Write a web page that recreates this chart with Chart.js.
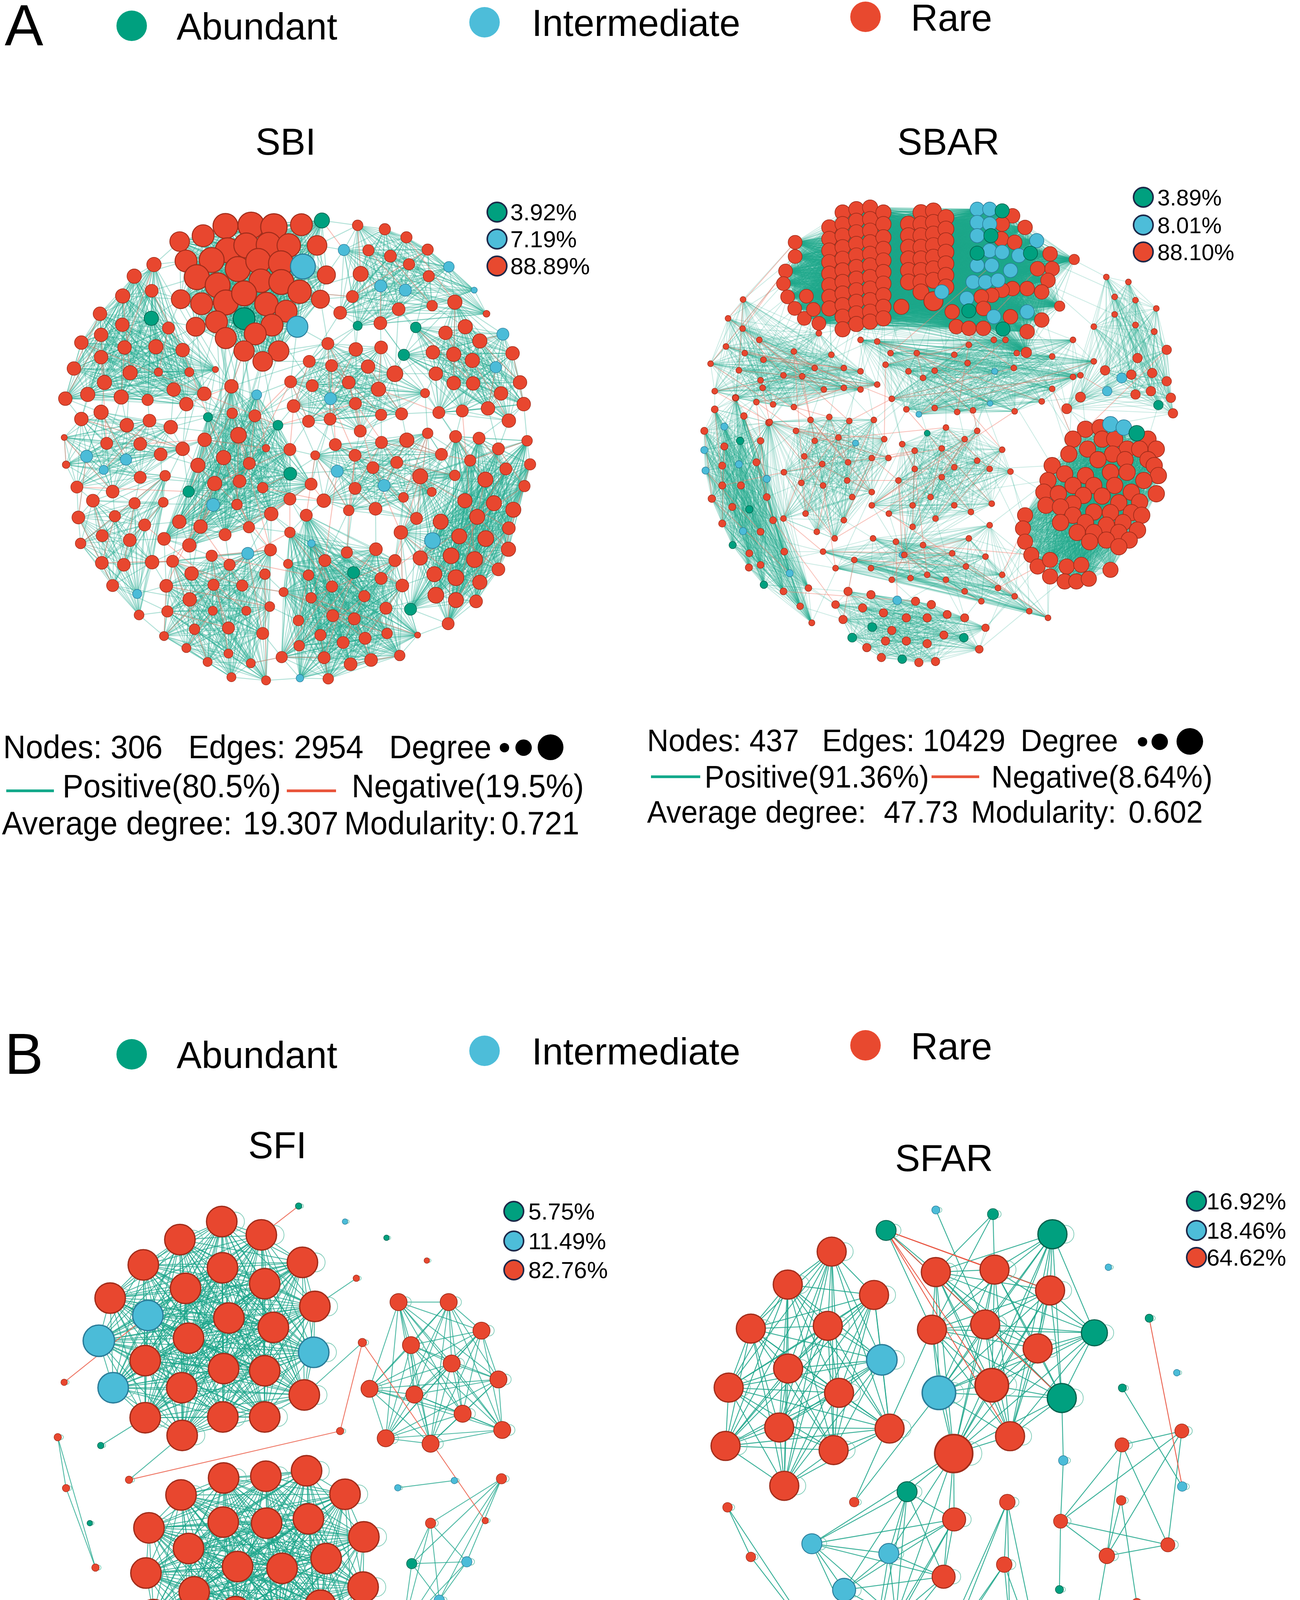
<!DOCTYPE html>
<html><head><meta charset="utf-8">
<script src="https://cdn.jsdelivr.net/npm/chart.js@4.4.1/dist/chart.umd.min.js"></script>
<style>
html,body{margin:0;padding:0;background:#fff;}
body{width:3327px;height:4760px;position:relative;overflow:hidden;font-family:"Liberation Sans",Arial,Helvetica,sans-serif;color:#000;}
.t{position:absolute;white-space:pre;line-height:1;z-index:3;}
.dot{position:absolute;border-radius:50%;box-sizing:border-box;z-index:3;}
.seg{position:absolute;z-index:3;}
canvas{position:absolute;z-index:1;}
</style></head><body>
<script>
// ---------------- data ----------------
const categories = ["Abundant", "Intermediate", "Rare"];
const panelLetters = ["A", "B"];
const panelTitles = ["SBI", "SBAR", "SFI", "SFAR"];
const nodeCounts = [306, 437, 87, 65];
const edgeCounts = [2954, 10429, 827, 316];
const positiveShare = ["80.5%", "91.36%", "99.52%", "97.15%"];
const negativeShare = ["19.5%", "8.64%", "0.48%", "2.85%"];
const averageDegree = ["19.307", "47.73", "19.011", "9.723"];
const modularity = ["0.721", "0.602", "0.605", "0.675"];
const classShare = [["3.92%", "7.19%", "88.89%"], ["3.89%", "8.01%", "88.10%"], ["5.75%", "11.49%", "82.76%"], ["16.92%", "18.46%", "64.62%"]];

// node = [layoutX, layoutY, degree, class(0 Abundant,1 Intermediate,2 Rare)]
// ---- SBI ----
const sbiTop = [[567,147,56,2],[636,145,60,2],[697,150,60,2],[771,143,48,2],[507,177,48,2],[444,195,42,2],[573,222,56,2],[623,207,56,2],[683,205,56,2],[737,207,52,2],[813,207,42,2],[461,255,48,2],[530,252,56,2],[600,280,56,2],[655,255,56,2],[716,262,56,2],[775,272,56,1],[838,298,38,2],[490,305,56,2],[546,330,56,2],[662,316,52,2],[717,320,56,2],[766,350,52,2],[447,373,40,2],[503,387,48,2],[568,383,56,2],[617,355,56,2],[677,388,52,2],[730,410,48,2],[822,373,38,2],[543,443,48,2],[617,433,48,0],[692,453,48,2],[760,458,46,1],[487,458,40,2],[568,493,46,2],[647,480,48,2],[617,533,44,2],[710,533,44,2],[667,565,42,2],[826,130,30,0]];
const sbiLeftUp = [[375,266,28,2],[322,302,28,2],[369,347,24,2],[291,363,28,2],[230,418,26,2],[368,432,28,0],[414,462,22,2],[290,452,26,2],[233,483,26,2],[180,507,26,2],[296,522,26,2],[380,520,28,2],[452,530,26,2],[233,552,26,2],[160,587,26,2],[311,600,28,2],[387,598,12,2],[470,598,14,2],[242,630,28,2],[428,652,26,2],[137,680,26,2],[197,667,28,2],[287,675,28,2],[358,684,20,2],[462,697,26,2],[510,665,26,2],[540,590,6,2]];
const sbiLeftMid = [[233,722,28,2],[180,743,26,2],[302,762,26,2],[363,748,24,2],[420,768,26,2],[134,800,6,2],[248,818,22,2],[338,820,24,2],[393,852,24,2],[452,835,26,2],[194,858,22,1],[240,900,14,1],[300,868,20,1],[139,884,10,2],[168,953,22,2],[264,967,24,2],[338,923,22,2]];
const sbiLeftLow = [[405,918,18,2],[211,995,24,2],[323,1003,20,2],[400,1000,16,2],[172,1047,24,2],[270,1043,20,2],[350,1070,22,2],[236,1103,22,2],[310,1117,24,2],[178,1127,18,2],[235,1187,24,2],[294,1193,24,2],[370,1185,26,2],[264,1257,22,2],[330,1283,14,1],[335,1348,16,2]];
const sbiCenter = [[583,642,26,2],[651,668,16,1],[585,725,18,2],[646,733,22,2],[520,737,14,0],[708,762,16,0],[602,793,32,2],[511,807,26,2],[562,862,28,2],[493,886,28,2],[538,942,28,2],[468,967,20,0],[534,1008,24,1],[605,935,24,2],[667,955,18,2],[598,1007,18,2],[690,1036,26,2],[630,1077,20,2],[566,1100,22,2],[500,1075,26,2],[443,1060,26,2],[402,1113,24,2],[470,1133,26,2],[676,833,10,2],[631,880,22,2],[740,837,22,2],[741,912,24,0],[740,990,22,2],[797,944,22,2]];
const sbiMidUp = [[842,510,22,2],[917,528,26,2],[985,522,24,2],[792,565,22,2],[852,578,22,2],[950,581,26,2],[1022,603,32,2],[742,628,22,2],[800,640,22,2],[898,630,24,2],[978,651,28,2],[849,680,22,1],[916,695,22,2],[750,703,24,2],[985,730,20,2],[1040,727,22,2],[1103,663,14,2],[790,750,22,2],[848,743,22,2],[929,780,22,2]];
const sbiMidLow = [[986,815,22,2],[1054,808,28,2],[1110,787,18,2],[862,822,22,2],[808,855,14,2],[915,855,22,2],[963,893,22,2],[867,904,22,1],[1027,877,22,2],[1147,852,22,2],[915,957,22,2],[993,948,22,1],[1045,985,16,2],[831,995,26,2],[898,1025,18,2],[970,1020,24,2],[1080,1050,22,2],[1121,968,14,2],[1183,917,18,2]];
const sbiNorthEast = [[922,145,18,2],[995,157,20,2],[1053,182,20,2],[1110,220,20,2],[885,221,20,1],[951,222,20,2],[1010,240,22,2],[1060,265,20,2],[1113,302,20,2],[1167,273,18,1],[930,295,30,2],[984,332,22,1],[1050,345,22,1],[908,365,22,2],[875,415,24,2],[922,455,14,0],[983,447,24,2],[1032,404,24,2],[1122,393,18,2],[1235,345,6,1],[1268,418,8,2]];
const sbiRightUp = [[1183,382,28,2],[1211,458,28,2],[1158,477,26,2],[1250,502,28,2],[1124,537,26,2],[1180,543,28,2],[1230,562,28,2],[1338,540,26,2],[1132,603,26,2],[1180,632,26,2],[1232,633,26,2],[1293,583,20,1],[1312,481,22,1],[1358,630,26,2],[1307,664,26,2],[1368,697,26,2],[1272,710,26,2],[1328,748,26,2],[1203,718,22,2],[1140,723,22,2],[1046,545,20,0],[1078,460,18,0]];
const sbiRightLow = [[1090,920,30,2],[1210,995,28,2],[1288,1003,30,2],[1145,1060,30,2],[1243,1045,30,2],[1340,1023,30,2],[1038,1093,26,2],[1123,1118,32,1],[1195,1105,30,2],[1266,1112,32,2],[1328,1080,24,2],[1090,1172,28,2],[1173,1165,32,2],[1236,1177,32,2],[1327,1145,28,2],[1128,1222,30,2],[1186,1233,32,2],[1250,1247,28,2],[1300,1207,24,2],[1132,1287,32,2],[1186,1302,30,2],[1240,1306,24,2],[1165,1375,22,2],[1064,1330,22,0],[1185,797,22,2],[1248,802,22,2],[1300,835,22,2],[1377,810,18,2],[1385,883,20,2],[1320,897,22,2],[1224,871,20,2],[1265,930,30,2],[1370,950,20,2]];
const sbiBottomWest = [[688,1147,22,2],[673,1222,18,2],[612,1257,20,2],[535,1255,20,2],[408,1258,24,2],[471,1300,26,2],[411,1337,20,2],[533,1335,14,2],[627,1158,22,1],[578,1193,20,2],[530,1165,20,2],[476,1220,26,2],[425,1182,22,2],[623,1335,14,2],[686,1322,16,2],[667,1405,22,2],[575,1388,22,2],[484,1392,18,2],[402,1413,14,2],[462,1450,14,2],[575,1467,14,2],[635,1497,14,2],[519,1493,14,2],[583,1540,14,2],[676,1550,14,2]];
const sbiBottomEast = [[740,1093,18,2],[784,1040,22,2],[798,1127,10,1],[834,1180,22,2],[893,1155,20,2],[971,1145,24,2],[1022,1180,22,2],[735,1190,14,2],[723,1277,14,2],[790,1225,18,2],[853,1260,20,2],[911,1217,22,0],[940,1290,20,2],[998,1327,22,2],[1042,1257,24,2],[985,1235,22,2],[797,1295,18,2],[855,1350,22,2],[913,1360,22,2],[763,1365,18,2],[718,1478,20,2],[765,1443,18,2],[822,1410,20,2],[883,1433,22,2],[942,1420,22,2],[1001,1405,18,2],[1083,1410,6,2],[1035,1473,18,2],[958,1487,24,2],[903,1500,24,2],[832,1480,22,2],[767,1543,10,1],[843,1545,18,2]];
// links between modules: [moduleA, nodeA, moduleB, nodeB]
const sbiPositiveLinks = [[0,30,4,6],[0,30,4,8],[0,31,4,9],[0,35,4,10],[0,37,4,13],[0,39,4,6],[0,34,4,0],[0,37,4,3],[0,31,4,7],[0,36,4,8],[0,5,1,0],[0,11,1,1],[0,23,1,3],[0,34,1,5],[0,23,1,6],[0,30,1,12],[0,34,1,17],[0,17,7,4],[0,10,7,0],[0,29,7,13],[0,22,7,10],[0,40,7,0],[0,38,5,0],[0,39,5,3],[0,33,5,7],[0,32,5,8],[1,20,2,1],[1,23,2,3],[1,24,2,4],[1,18,2,0],[1,22,2,2],[2,14,3,1],[2,15,3,2],[2,16,3,0],[2,8,3,3],[2,9,4,7],[2,8,4,9],[2,4,4,6],[4,20,10,12],[4,21,10,10],[4,22,10,11],[4,18,10,9],[4,16,10,0],[4,1,5,7],[4,5,5,13],[4,3,5,8],[5,18,6,3],[5,19,6,5],[5,14,6,0],[5,15,6,1],[6,13,11,1],[6,14,11,4],[6,15,11,5],[6,16,11,6],[6,16,9,6],[6,12,9,0],[6,18,9,0],[6,9,9,24],[8,17,9,26],[8,19,9,24],[8,15,9,25],[8,0,7,8],[8,1,7,18],[8,21,7,17],[8,20,7,16],[5,16,8,19],[5,6,8,20],[5,15,8,18],[10,0,11,7],[10,14,11,19],[10,15,11,20],[10,24,11,31],[3,12,10,12],[3,15,10,18],[3,13,10,6],[3,14,10,4],[9,6,11,14],[9,23,11,13],[9,11,11,6],
[1,20,2,0],[1,21,2,1],[1,22,2,6],[1,24,2,9],[1,19,2,4],[1,15,2,2],[1,13,2,1],[2,13,3,0],[2,14,3,4],[2,15,3,5],[2,16,3,2],[2,12,3,1],[2,11,3,0],[2,10,3,4],[2,9,3,6],[1,25,4,0],[1,24,4,2],[1,26,4,4],[1,19,4,2],[1,17,4,0],[1,12,4,0],[1,16,4,6],[2,8,4,7],[2,4,4,4],[2,3,4,2],[2,16,4,10],[2,12,4,7],[2,9,4,11],[3,0,4,10],[3,3,4,11],[3,6,4,20],[3,2,4,12],[3,12,4,22],[3,8,4,21],[3,12,10,4],[3,13,10,5],[3,11,10,12],[3,15,10,6],[4,21,10,4],[4,17,10,0],[4,19,10,11],[4,16,10,8],[4,17,10,1],[4,0,5,3],[4,5,5,17],[4,3,5,13],[4,25,5,17],[4,28,5,18],[4,26,6,3],[4,28,6,4],[4,27,6,13],[4,25,6,4],[4,26,6,7],[4,27,11,1],[4,16,11,0],[4,17,11,0],[4,27,11,3],[4,16,11,2],[5,17,6,3],[5,18,6,4],[5,19,6,0],[5,14,6,5],[5,16,6,2],[5,13,6,4],[5,0,7,15],[5,1,7,15],[5,2,7,16],[5,3,7,14],[5,6,7,17],[5,1,7,13],[5,6,8,4],[5,16,8,8],[5,10,8,20],[5,6,8,8],[6,2,9,30],[6,17,9,6],[6,8,9,0],[6,12,9,6],[6,14,11,3],[6,12,11,6],[6,10,11,4],[8,16,9,26],[8,18,9,24],[8,15,9,27],[8,19,9,30],[7,18,8,0],[7,17,8,4],[7,16,8,20],[7,12,8,0],[7,8,8,21],[7,9,8,0],[9,6,11,6],[9,11,11,14],[9,15,11,14],[9,19,11,13],[9,22,11,26],[10,1,11,8],[10,21,11,20],[10,2,11,8],[0,23,1,2],[0,34,1,11],[0,11,1,0],[0,18,1,2],[0,23,1,5],[0,30,4,0],[0,37,4,0],[0,39,4,1],[0,30,4,2],[0,34,4,4],[0,39,5,0],[0,33,5,0],[0,29,5,0],[0,29,7,14],[0,22,7,13],[0,10,7,4],[0,31,4,10],[0,31,4,12],[0,35,4,18],[0,37,10,0],[1,5,4,6],[7,15,4,6],[0,32,4,6],[0,38,4,13],[0,36,4,10],[0,30,2,9],[0,35,4,16],[0,39,4,27]];
const sbiNegativeLinks = [[4,6,5,7],[4,8,4,19],[4,12,10,12],[4,25,5,13],[5,4,6,3],[5,9,6,6],[5,10,8,19],[6,0,9,30],[6,4,11,1],[6,9,9,24],[6,10,6,15],[9,6,11,14],[9,11,9,32],[9,18,9,28],[11,9,11,19],[11,12,11,23],[11,16,11,24],[10,4,10,18],[10,12,3,12],[3,3,3,8],[2,5,2,13],[2,7,4,7],[1,9,1,25],[1,12,4,4],[1,25,4,5],[0,22,7,13],[7,11,7,16],[8,12,8,3],[8,7,8,15],[6,5,6,14],[5,2,5,10],[4,9,4,15],[4,15,10,0],[10,7,10,19],[11,2,11,10],[11,27,11,29],[9,0,6,17],[3,1,3,7],[10,2,11,8],[11,20,10,21],[4,28,6,13],[5,12,4,5],[6,7,11,3],[9,13,8,18],[7,2,8,0],[0,40,7,4],[1,13,2,6],[2,10,3,4],[4,24,4,13],[11,0,4,27],
[4,10,4,25],[5,0,5,9],[6,1,6,9],[9,4,9,29],[11,3,11,16],[10,8,10,15],[3,5,3,10],[2,0,2,12],[1,3,1,15],[4,14,6,13],[5,11,6,5],[8,2,8,10],[7,5,7,12],[9,7,11,15],[10,3,10,16],[11,17,11,25],[6,6,9,6],[4,7,4,23],[2,14,4,11],[3,6,10,13],[11,11,11,30],[9,20,9,31],[5,7,4,24],[6,2,6,16],[10,10,11,9],[11,5,11,21],[4,2,4,24],[8,11,8,16],[1,8,1,20],[4,19,10,2],
[4,0,4,9],[4,2,4,11],[4,4,4,13],[4,6,4,15],[4,8,4,17],[4,10,4,20],[4,12,4,22],[4,14,4,26],[4,16,4,28],[4,18,4,27],[4,1,4,23],[4,3,4,24],[5,1,5,11],[5,3,5,13],[5,5,5,15],[5,7,5,17],[5,9,5,19],[5,0,5,18],[5,4,5,14],[6,0,6,10],[6,2,6,12],[6,4,6,14],[6,6,6,16],[6,8,6,18],[6,1,6,11],[6,3,6,17],[9,0,9,10],[9,2,9,12],[9,4,9,14],[9,6,9,16],[9,8,9,18],[9,10,9,20],[9,12,9,22],[9,24,9,31],[9,25,9,29],[9,26,9,32],[9,27,9,30],[10,0,10,10],[10,2,10,12],[10,4,10,14],[10,6,10,16],[10,8,10,18],[10,10,10,20],[10,12,10,22],[10,1,10,24],[11,0,11,10],[11,2,11,12],[11,4,11,14],[11,6,11,16],[11,8,11,18],[11,10,11,20],[11,12,11,22],[11,14,11,24],[11,16,11,26],[11,18,11,28],[11,20,11,30],[11,22,11,32],[1,0,1,10],[1,2,1,12],[1,4,1,14],[1,6,1,16],[1,8,1,18],[1,10,1,22],[2,1,2,9],[2,3,2,11],[2,5,2,15],[3,0,3,9],[3,2,3,11],[3,4,3,13],[7,0,7,10],[7,3,7,13],[7,6,7,18],[8,0,8,9],[8,3,8,13],[8,6,8,17],[8,10,8,21],[4,6,10,0],[4,10,10,4],[5,12,6,8],[6,5,11,4],[9,0,11,6],[10,9,11,0],[3,10,10,12],[2,9,4,9],[1,24,4,0],[0,37,4,0]];

// ---- SBAR ----
const sbarTopLeft = [[465,160,80,2],[465,195,80,2],[465,230,80,2],[465,265,80,2],[465,300,80,2],[465,335,80,2],[465,370,80,2],[465,405,80,2],
[497,115,80,2],[497,150,80,2],[497,185,80,2],[497,220,80,2],[497,255,80,2],[497,290,80,2],[497,325,80,2],[497,360,80,2],[497,395,80,2],[497,430,80,2],[497,468,80,2],
[530,105,80,2],[530,140,80,2],[530,175,80,2],[530,210,80,2],[530,245,80,2],[530,280,80,2],[530,315,80,2],[530,350,80,2],[530,385,80,2],[530,420,80,2],[530,452,80,2],
[563,100,80,2],[563,135,80,2],[563,170,80,2],[563,205,80,2],[563,240,80,2],[563,275,80,2],[563,310,80,2],[563,345,80,2],[563,380,80,2],[563,415,80,2],[563,445,80,2],
[595,115,80,2],[595,150,80,2],[595,190,80,2],[595,225,80,2],[595,260,80,2],[595,295,80,2],[595,330,80,2],[595,365,80,2],[595,400,80,2],[595,435,80,2],
[383,205,70,2],[383,248,70,2],[360,292,70,2],[355,330,70,2],[365,370,70,2],[382,405,70,2],[405,435,70,2],[440,450,70,2],[410,368,70,2],[427,408,70,2],[638,400,80,2]];
const sbarTopMiddle = [[655,150,85,2],[655,185,85,2],[655,220,85,2],[655,255,85,2],[655,290,85,2],[655,325,85,2],[685,115,85,2],[685,150,85,2],[685,185,85,2],[685,220,85,2],[685,255,85,2],[685,290,85,2],[685,325,85,2],[685,355,85,2],[715,110,85,2],[715,145,85,2],[715,180,85,2],[715,215,85,2],[715,250,85,2],[715,285,85,2],[715,320,85,2],[715,383,108,2],[745,130,85,2],[745,165,85,2],[745,200,85,2],[745,235,85,2],[745,270,85,2],[745,305,85,2],[745,340,85,2]];
const sbarTopRight = [[905,125,75,2],[935,160,75,2],[880,150,75,2],[878,195,75,2],[910,205,75,2],[965,285,75,2],[995,240,75,2],[1000,285,75,2],[990,320,75,2],[975,355,75,2],[940,345,75,2],[905,345,75,2],[880,350,75,2],[855,365,75,2],[830,370,75,2],[835,405,75,2],[900,430,75,2],[975,440,75,2],[940,475,75,2],[770,460,75,2],[800,465,75,2],[835,465,75,2],[760,415,75,2],[1018,398,45,2],[1053,257,45,2],[938,538,45,2],
[820,105,72,1],[850,105,72,1],[820,145,72,1],[850,150,72,1],[820,185,72,1],[850,230,72,1],[820,275,72,1],[880,235,72,1],[855,275,72,1],[810,325,72,1],[840,325,72,1],[870,320,72,1],[900,290,72,1],[920,245,72,1],[795,375,72,1],[860,430,72,1],[940,415,72,1],[963,200,72,1],[735,355,72,1],
[880,110,72,0],[853,185,72,0],[820,238,72,0],[948,238,72,0],[800,412,72,0],[882,467,72,0]];
const sbarRightCluster = [[1080,770,88,2],[1115,765,88,2],[1050,800,88,2],[1120,800,88,2],[1150,800,88,2],[1230,800,88,2],[1085,830,88,2],[1180,830,88,2],[1210,830,88,2],[1250,830,88,2],[1040,845,88,2],[1145,845,88,2],[1110,862,88,2],[1175,862,88,2],[1230,862,88,2],[1000,880,88,2],[1245,880,88,2],[1030,905,88,2],[1140,900,88,2],[1180,900,88,2],[1080,910,88,2],[1255,910,88,2],[990,925,88,2],[1220,925,88,2],[1050,940,88,2],[1100,940,88,2],[1150,940,88,2],[980,960,88,2],[1015,965,88,2],[1190,960,88,2],[1250,965,88,2],[1075,970,88,2],[1120,972,88,2],[1050,995,88,2],[1160,992,88,2],[1210,990,88,2],[985,1000,88,2],[1020,1005,88,2],[1100,1020,88,2],[1140,1022,88,2],[1190,1022,88,2],[1050,1030,88,2],[1215,1030,88,2],[1020,1052,88,2],[1080,1052,88,2],[1170,1052,88,2],[1130,1060,88,2],[1060,1082,88,2],[1100,1082,88,2],[1160,1082,88,2],[1205,1075,88,2],[1130,1105,88,2],[1185,1105,88,2],[1090,1110,88,2],[1160,1125,88,2],[935,1030,80,2],[930,1070,80,2],[935,1110,80,2],[950,1150,80,2],[965,1185,80,2],[995,1165,80,2],[1035,1185,80,2],[1070,1180,80,2],[995,1215,80,2],[1030,1230,80,2],[1058,1230,80,2],[1088,1222,80,2],[1140,1195,80,2],[1140,755,82,1],[1172,765,82,1],[1203,782,82,0]];
const sbarRightUpper = [[1127,592,38,2],[1167,615,42,1],[1190,605,38,2],[1240,600,38,2],[1275,625,38,2],[1132,655,38,1],[1200,665,38,2],[1237,655,38,2],[1285,675,38,2],[1255,697,38,0],[1290,722,38,2],[1068,673,42,2],[1035,708,42,2],[1205,555,38,2],[1275,530,38,2],[1245,475,14,2],[1200,455,14,2],[1130,310,12,2],[1183,325,12,2],[1200,380,12,2],[1150,370,12,2],[1150,423,12,2],[1100,460,12,2],[1250,405,12,2]];
const sbarLeftCluster = [[165,775,22,2],[213,762,22,1],[251,805,24,0],[165,833,22,1],[213,822,22,2],[168,895,22,1],[208,880,22,2],[248,876,22,1],[290,870,22,2],[315,920,22,1],[208,940,22,2],[253,940,22,2],[183,980,24,2],[232,1005,22,2],[273,1012,24,0],[315,975,20,2],[208,1055,22,2],[258,1078,22,1],[300,1080,20,2],[233,1120,22,0],[330,1045,20,2],[357,1140,20,2],[273,1145,20,2],[300,1180,20,2],[370,1205,22,1],[272,1188,22,2],[308,1240,24,0],[355,1260,20,2],[415,1250,18,2],[395,1305,18,2],[423,1355,14,2],[190,710,20,2],[240,675,18,2],[260,730,18,2],[300,805,18,2],[320,750,18,2]];
const sbarBottomCluster = [[510,1260,30,2],[565,1270,30,2],[628,1287,32,1],[672,1290,30,2],[710,1300,30,2],[480,1300,26,2],[545,1310,30,2],[498,1345,30,2],[595,1325,30,2],[650,1340,30,2],[700,1340,30,2],[748,1330,28,2],[790,1340,28,2],[520,1400,34,0],[568,1368,34,0],[615,1378,30,2],[650,1410,30,2],[700,1418,30,2],[740,1392,28,2],[788,1400,32,0],[555,1430,30,2],[600,1410,30,2],[640,1465,32,0],[680,1475,30,2],[720,1472,30,2],[590,1460,30,2],[825,1435,26,2],[840,1370,24,2]];
const sbarSparseNW = [[258,378,12,2],[222,435,12,2],[257,466,12,2],[297,500,12,2],[217,520,12,2],[262,540,12,2],[307,560,12,2],[180,572,12,2],[248,592,12,2],[300,622,12,2],[355,607,12,2],[400,610,12,2],[430,585,12,2],[470,545,12,2],[500,585,12,2],[540,595,12,2],[580,635,12,2],[540,650,12,2],[500,645,12,2],[452,650,12,2],[380,535,12,2],[440,480,12,2],[190,655,12,2],[240,675,12,2],[290,688,12,2],[330,695,12,2],[380,703,12,2],[305,645,12,2]];
const sbarSparseN = [[600,575,12,2],[655,595,12,2],[690,615,12,2],[718,593,12,2],[797,570,12,2],[862,595,14,1],[908,585,12,2],[915,540,12,2],[888,500,12,2],[860,500,12,2],[800,515,12,2],[765,545,12,2],[675,540,12,2],[612,540,12,2],[580,505,12,2],[540,500,12,2],[615,678,12,2],[650,710,12,2],[680,725,12,1],[718,706,12,2],[772,718,12,2],[810,713,12,2],[851,692,10,1],[910,716,12,2],[975,686,12,2],[1000,648,12,2],[1050,612,12,2],[1068,607,12,2],[1100,565,12,2],[1050,500,12,2],[1000,550,12,2]];
const sbarSparseW = [[322,748,12,2],[385,775,12,2],[420,742,12,2],[465,733,12,2],[513,745,12,2],[572,742,12,2],[430,805,12,2],[487,795,12,2],[528,812,14,1],[597,800,12,2],[607,857,12,2],[567,857,12,2],[510,870,12,2],[448,875,12,2],[405,852,12,2],[356,900,12,2],[398,932,12,2],[450,940,12,2],[508,925,12,2],[567,960,12,2],[355,1040,12,2],[408,1025,12,2],[435,1080,12,2],[478,1100,12,2],[500,1045,12,2],[520,975,12,2]];
const sbarSparseC = [[640,815,12,2],[700,782,12,0],[745,765,12,2],[790,800,12,2],[820,775,12,2],[880,832,12,2],[735,828,12,2],[670,835,12,2],[631,925,12,2],[670,890,12,2],[735,915,12,2],[765,885,12,2],[820,865,12,2],[850,890,12,2],[900,898,12,2],[567,1000,12,2],[608,1025,12,2],[665,1000,12,2],[708,975,12,2],[765,1000,12,2],[805,1020,12,2],[855,995,12,2],[720,1040,12,2],[665,1065,12,2],[640,1150,14,1]];
const sbarSparseS = [[625,1110,12,2],[570,1100,12,2],[525,1165,12,2],[480,1190,12,2],[450,1140,12,2],[565,1190,12,2],[615,1225,12,2],[660,1220,12,2],[700,1210,12,2],[745,1225,12,2],[793,1185,12,2],[840,1155,12,2],[760,1145,12,2],[690,1120,12,2],[645,1150,12,2],[790,1260,12,2],[830,1290,12,2],[870,1250,12,2],[910,1275,12,2],[945,1320,12,2],[990,1340,12,2],[880,1210,12,2],[800,1100,12,2],[850,1060,12,2]];
const sbarPositiveLinks = [[0,51,5,0],[0,52,5,0],[0,54,5,1],[0,56,5,3],[0,57,5,5],[0,58,5,6],[0,7,5,13],[0,18,5,21],[0,29,5,14],[0,40,5,15],[0,50,5,16],[0,60,6,14],[0,61,6,0],[0,90,6,1],[0,83,6,2],[0,120,6,9],[0,125,6,4],[0,141,6,7],[0,132,6,8],[0,135,6,28],[0,139,2,19],[0,139,2,12],[0,138,2,21],[0,118,6,6],[0,18,7,2],[0,29,7,5],[0,40,8,0],[0,83,8,3],[0,61,3,0],[0,55,3,2],[0,57,3,31],[0,18,3,35],[0,141,1,0],[0,135,1,55],[0,125,9,4],[0,50,7,7],[1,55,9,19],[1,56,9,18],[1,57,9,21],[1,58,8,14],[1,59,8,20],[1,60,9,20],[1,15,8,13],[1,0,2,10],[1,1,2,12],[1,2,6,25],[1,5,2,9],[1,62,4,26],[1,61,9,22],[1,57,4,12],[3,0,5,9],[3,3,7,0],[3,8,7,1],[3,9,7,15],[3,14,7,20],[3,17,9,4],[3,22,9,3],[3,24,4,5],[3,26,4,0],[3,30,7,10],[3,35,5,24],[4,0,9,2],[4,3,9,6],[4,8,9,11],[4,12,8,22],[4,26,9,13],[4,27,9,18],[5,16,6,15],[5,18,7,5],[6,16,8,0],[6,21,8,4],[7,19,8,15],[7,24,9,1],[8,21,9,0],[6,24,2,11],[6,28,2,12],[8,13,1,57],
[0,0,5,20],[0,3,5,21],[0,6,5,13],[0,8,5,10],[0,59,5,12],[0,60,5,11],[0,56,5,9],[0,55,5,4],[0,54,5,2],[0,53,5,7],[0,28,6,15],[0,39,6,14],[0,49,6,0],[0,61,6,12],[0,70,6,13],[0,84,6,11],[0,90,6,10],[0,110,6,7],[0,114,6,9],[0,116,6,5],[0,117,6,8],[0,119,6,6],[0,121,6,30],[0,131,6,29],[0,140,6,26],[0,137,2,22],[0,134,2,17],[0,115,7,8],[0,112,7,5],[0,17,7,0],[0,27,7,3],[0,38,7,4],[0,48,8,1],[0,85,8,2],[0,95,8,4],[0,100,8,11],[0,111,1,15],[0,118,1,10],[0,141,1,2],[0,96,3,31],[0,57,3,32],[0,58,3,33],[0,19,3,35],[0,9,5,22],[1,22,8,15],[1,27,8,14],[1,36,9,20],[1,57,4,26],[1,58,9,17],[1,59,4,27],[1,10,6,26],[1,0,6,27],[1,22,9,23],[3,31,5,22],[3,32,5,23],[3,33,5,24],[3,34,7,0],[3,35,7,2],[3,8,7,15],[3,15,7,16],[3,20,7,20],[3,21,9,4],[3,23,9,4],[3,28,4,5],[3,29,4,7]];
const sbarNegativeLinks = [[0,51,5,1],[0,52,5,2],[0,53,5,7],[5,9,7,0],[5,11,7,6],[7,3,7,12],[7,6,8,2],[7,8,7,16],[7,10,8,7],[5,12,6,16],[6,0,7,9],[6,17,8,1],[8,3,8,10],[8,8,9,7],[7,14,7,19],[7,20,9,4],[3,10,7,13],[3,15,5,24],[3,20,4,5],[4,2,9,0],[9,5,9,12],[9,13,1,58],[9,17,1,60],[8,16,9,10],[0,110,6,6],[0,125,6,13],[0,96,6,11],[2,5,6,27],[2,14,1,0],[6,25,1,2],[1,56,9,21],[3,27,4,3],[7,2,5,27],[5,20,7,21],[7,23,8,11],[6,3,8,5],[3,5,3,18],[7,1,7,9],[8,6,8,18],[9,2,4,7],[5,3,7,4],[7,11,8,8],[7,17,9,3],[8,9,9,8],
[5,0,5,8],[5,2,5,10],[5,4,5,12],[5,6,5,14],[5,8,5,16],[5,10,5,18],[5,12,5,20],[5,14,5,22],[5,16,5,24],[5,18,5,26],[5,1,5,19],[5,3,5,17],[5,5,5,15],[5,7,5,25],[5,9,5,27],[7,0,7,8],[7,1,7,10],[7,2,7,12],[7,3,7,14],[7,4,7,16],[7,5,7,18],[7,6,7,20],[7,7,7,22],[7,9,7,24],[7,11,7,25],[7,13,7,21],[7,15,7,23],[7,0,7,17],[7,2,7,19],[8,0,8,9],[8,1,8,11],[8,2,8,13],[8,3,8,15],[8,4,8,17],[8,5,8,19],[8,6,8,21],[8,7,8,23],[8,8,8,24],[8,10,8,20],[8,12,8,22],[6,0,6,10],[6,2,6,12],[6,4,6,14],[6,6,6,16],[6,8,6,18],[6,10,6,20],[6,12,6,22],[6,14,6,24],[6,16,6,26],[6,18,6,28],[9,0,9,8],[9,2,9,10],[9,4,9,12],[9,6,9,14],[9,8,9,16],[9,10,9,18],[9,12,9,20],[9,14,9,22],[3,0,3,12],[3,4,3,16],[3,8,3,20],[3,12,3,24],[3,31,3,10],[3,33,3,9],[5,20,7,2],[5,22,7,0],[5,24,7,1],[5,26,7,3],[7,10,8,6],[7,12,8,7],[7,18,8,8],[8,15,6,23],[8,4,6,21],[7,4,6,16]];

// ---- SFI ----
const sfiModuleA = [[543,285,26,2],[432,335,26,2],[648,322,26,2],[335,405,26,2],[757,398,26,2],[545,413,26,2],[247,497,26,2],[447,470,26,2],[657,457,26,2],[790,520,26,2],[562,552,26,2],[680,578,26,2],[455,608,26,2],[340,670,26,2],[548,692,26,2],[657,698,26,2],[437,745,26,2],[762,765,26,2],[340,828,26,2],[546,826,26,2],[657,826,26,2],[438,877,26,2],[347,545,26,1],[217,615,27,1],[787,647,26,1],[255,745,26,1]];
const sfiModuleB = [[548,995,26,2],[660,990,26,2],[768,975,26,2],[435,1042,26,2],[870,1040,26,2],[350,1133,26,2],[547,1117,26,2],[662,1120,26,2],[773,1108,26,2],[920,1158,26,2],[455,1190,26,2],[585,1240,26,2],[703,1245,26,2],[820,1218,26,2],[342,1258,26,2],[470,1310,26,2],[918,1297,26,2],[362,1373,26,2],[580,1365,26,2],[695,1375,26,2],[805,1347,26,2],[460,1440,26,2],[892,1430,26,2],[570,1487,26,2],[683,1500,26,2],[795,1487,26,2]];
const sfiModuleC = [[1012,508,12,2],[1145,508,12,2],[1232,587,12,2],[1045,627,12,2],[1153,678,12,2],[1277,722,12,2],[935,748,12,2],[1054,764,12,2],[1182,817,12,2],[978,885,12,2],[1097,900,12,2],[1287,862,12,2]];
const sfiModuleD = [[1285,997,5,2],[1097,1120,5,2],[1047,1232,5,0],[1193,1227,5,1],[1120,1333,5,1],[1023,1413,5,1]];
const sfiOthers = [[1242,1113,1,2],[1010,1022,1,1],[1160,1002,1,1],[108,882,2,2],[130,1023,2,2],[208,1243,2,2],[193,1120,0,0],[222,905,1,0],[125,730,1,2],[747,242,1,0],[870,285,0,1],[980,330,0,0],[1087,393,0,2],[900,442,1,2],[297,1000,2,2],[857,865,2,2],[916,620,3,2]];
const sfiPositiveLinks = [[4,1,4,2],[4,3,4,4],[4,3,4,5],[4,4,4,5],[4,7,0,18],[4,13,0,9],[4,14,0,21],[4,16,0,17]];
const sfiNegativeLinks = [[4,8,0,22],[4,9,0,2],[4,14,4,15],[4,15,4,16],[4,16,4,0]];

// ---- SFAR ----
const sfarModuleA = [[428,283,15,2],[315,378,15,2],[537,408,15,2],[220,505,15,2],[418,497,15,2],[316,620,15,2],[163,675,15,2],[447,690,15,2],[293,790,15,2],[577,793,15,2],[155,843,15,2],[433,855,15,2],[306,958,15,2],[557,595,16,1]];
const sfarModuleB = [[696,342,15,2],[847,335,15,2],[996,233,15,0],[990,395,15,2],[686,508,15,2],[823,493,15,2],[958,562,15,2],[1104,517,13,0],[704,690,18,1],[840,668,18,2],[1020,705,15,0],[887,815,15,2],[742,865,21,2]];
const sfarModuleC = [[622,975,9,0],[743,1055,11,2],[377,1125,9,1],[575,1153,9,1],[716,1220,11,2],[460,1258,11,1],[593,1337,9,2],[527,1487,8,0]];
const sfarModuleD = [[880,1005,6,2],[872,1185,6,2],[886,1353,6,2],[745,1387,6,1],[970,1488,6,2],[669,1533,6,2]];
const sfarOthers = [[568,222,9,0],[696,163,1,1],[843,175,3,0],[486,1005,2,2],[825,1545,0,2],[1024,885,2,1],[1014,1257,1,0],[1017,1060,5,2],[1175,840,5,2],[1329,800,5,2],[1173,1000,2,2],[1136,1160,6,2],[1293,1128,5,2],[1213,1296,2,2],[1098,1403,2,1],[1330,960,2,1],[1176,676,1,0],[1245,475,1,0],[1316,632,0,1],[1140,328,0,1],[160,1020,2,2],[220,1163,2,2],[395,1417,2,2],[292,1300,0,0]];
const sfarPositiveLinks = [[1,12,2,0],[1,12,2,1],[1,12,2,2],[1,12,2,3],[1,12,2,4],[1,12,2,6],[4,0,1,0],[4,0,1,4],[4,0,1,5],[4,1,1,5],[4,2,1,0],[4,2,1,4],[4,2,1,1],[4,3,1,4],[4,3,1,8],[4,5,1,10],[4,5,4,7],[4,7,4,6],[4,7,4,8],[4,7,4,9],[4,7,4,11],[4,7,4,12],[4,8,4,9],[4,8,4,11],[4,8,4,12],[4,9,4,11],[4,9,4,12],[4,11,4,12],[4,10,4,11],[4,10,4,13],[4,11,4,14],[4,13,4,14],[4,16,4,15],[4,20,4,21],[4,20,4,22],[4,21,4,22]];
const sfarNegativeLinks = [[4,0,1,1],[4,0,1,3],[4,0,1,9],[4,0,1,11],[4,0,1,10],[4,17,4,15]];

// ---------------- styles ----------------
const FILL = ["#00A07F", "#4BBCD8", "#E8472F"];
const STROKE = ["#00604C", "#2A7C99", "#A12D1B"];
const LEGEND_FILL = ["#00A07F", "#4DBDD9", "#E8492F"];

function addText(str, x, base, size, o) {
  o = o || {};
  const d = document.createElement('div');
  d.className = 't';
  d.textContent = str;
  d.style.fontSize = size + 'px';
  d.style.left = x + 'px';
  d.style.top = (base - 0.8465 * size) + 'px';
  if (o.center) d.style.transform = 'translateX(-50%)';
  if (o.sx) { d.style.transform = 'scaleX(' + o.sx + ')'; d.style.transformOrigin = 'left center'; }
  document.body.appendChild(d);
}
function addDot(cx, cy, r, fill, border, bw) {
  const d = document.createElement('div');
  d.className = 'dot';
  d.style.left = (cx - r) + 'px'; d.style.top = (cy - r) + 'px';
  d.style.width = (2 * r) + 'px'; d.style.height = (2 * r) + 'px';
  d.style.background = fill;
  if (border) d.style.border = bw + 'px solid ' + border;
  document.body.appendChild(d);
}
function addSeg(x1, x2, y, color, th) {
  const d = document.createElement('div');
  d.className = 'seg';
  d.style.left = x1 + 'px'; d.style.top = (y - th / 2) + 'px';
  d.style.width = (x2 - x1) + 'px'; d.style.height = th + 'px';
  d.style.background = color;
  document.body.appendChild(d);
}

function buildPanel(p) {
  const cv = document.createElement('canvas');
  cv.width = p.w; cv.height = p.h;
  cv.style.left = p.left + 'px'; cv.style.top = p.top + 'px';
  cv.style.width = p.w + 'px'; cv.style.height = p.h + 'px';
  document.body.appendChild(cv);
  const pxPerUnit = p.w / p.xMax;
  const nodes = [], radii = [], fills = [], borders = [], bws = [];
  const loops = [], loopR = [];
  p.modules.forEach(m => m.forEach(n => {
    nodes.push({x: n[0], y: n[1]});
    const ru = p.radius(n[2]);
    const r = ru * pxPerUnit;
    radii.push(r);
    fills.push(FILL[n[3]]);
    borders.push(STROKE[n[3]]);
    bws.push(Math.max(1.3, r * 0.085));
    if (p.loops) { loops.push({x: n[0] + 0.92 * ru, y: n[1]}); loopR.push(0.62 * r); }
  }));
  const pos = [], neg = [];
  const push = (arr, a, b) => { arr.push({x: a[0], y: a[1]}, {x: b[0], y: b[1]}, {x: b[0], y: null}); };
  p.modules.forEach((m, mi) => {
    if (p.cliques.indexOf(mi) < 0) return;
    for (let i = 0; i < m.length; i++) for (let j = i + 1; j < m.length; j++) push(pos, m[i], m[j]);
  });
  const get = (mi, i) => p.modules[mi] ? p.modules[mi][i] : undefined;
  p.posLinks.forEach(q => { const a = get(q[0], q[1]), b = get(q[2], q[3]); if (a && b) push(pos, a, b); });
  p.negLinks.forEach(q => { const a = get(q[0], q[1]), b = get(q[2], q[3]); if (a && b) push(neg, a, b); });
  const lineSet = (data, color, width, order) => ({
    data: data, showLine: true, spanGaps: false, borderColor: color, borderWidth: width,
    pointRadius: 0, pointHoverRadius: 0, order: order, clip: false,
    segment: { borderColor: () => undefined }
  });
  const sets = [
    { data: nodes, pointRadius: radii, pointHoverRadius: radii, pointBackgroundColor: fills,
      pointBorderColor: borders, pointBorderWidth: bws, showLine: false, order: 0, clip: false },
    lineSet(neg, p.negColor, p.lineWidth, 2),
    lineSet(pos, p.posColor, p.lineWidth, 3)
  ];
  if (p.loops) sets.push({ data: loops, pointRadius: loopR, pointHoverRadius: loopR, pointBackgroundColor: 'rgba(0,0,0,0)',
      pointBorderColor: 'rgba(105,195,172,0.85)', pointBorderWidth: 1.8, showLine: false, order: 1, clip: false });
  new Chart(cv, {
    type: 'scatter',
    data: { datasets: sets },
    options: {
      animation: false, responsive: false, devicePixelRatio: 1, events: [],
      layout: { padding: 0 },
      plugins: { legend: { display: false }, tooltip: { enabled: false } },
      scales: {
        x: { type: 'linear', min: 0, max: p.xMax, display: false },
        y: { type: 'linear', min: 0, max: p.yMax, reverse: true, display: false }
      }
    }
  });
}

// ---------------- charts ----------------
buildPanel({ left: 0, top: 420, w: 1560, h: 1400, xMax: 1560, yMax: 1600,
  modules: [sbiTop, sbiLeftUp, sbiLeftMid, sbiLeftLow, sbiCenter, sbiMidUp, sbiMidLow, sbiNorthEast, sbiRightUp, sbiRightLow, sbiBottomWest, sbiBottomEast],
  cliques: [0,1,2,3,4,5,6,7,8,9,10,11], posLinks: sbiPositiveLinks, negLinks: sbiNegativeLinks,
  radius: d => 5 + 0.48 * d, posColor: 'rgba(30,168,140,0.36)', negColor: 'rgba(242,125,110,0.5)', lineWidth: 2.3 });
buildPanel({ left: 1600, top: 420, w: 1727, h: 1400, xMax: 1570, yMax: 1590,
  modules: [sbarTopLeft.concat(sbarTopMiddle, sbarTopRight), sbarRightCluster, sbarRightUpper, sbarLeftCluster, sbarBottomCluster, sbarSparseNW, sbarSparseN, sbarSparseW, sbarSparseC, sbarSparseS],
  cliques: [0,1,2,3,4,5,6,7,8,9], posLinks: sbarPositiveLinks, negLinks: sbarNegativeLinks,
  radius: d => 5 + 0.16 * d, posColor: 'rgba(30,168,140,0.24)', negColor: 'rgba(242,125,110,0.5)', lineWidth: 2.0 });
buildPanel({ left: 0, top: 2820, w: 1600, h: 1540, xMax: 1568, yMax: 1571, loops: true,
  modules: [sfiModuleA, sfiModuleB, sfiModuleC, sfiModuleD, sfiOthers],
  cliques: [0,1,2,3], posLinks: sfiPositiveLinks, negLinks: sfiNegativeLinks,
  radius: d => 7 + 1.2 * d, posColor: 'rgba(28,165,138,0.78)', negColor: 'rgba(236,100,80,0.9)', lineWidth: 2.2 });
buildPanel({ left: 1650, top: 2900, w: 1677, h: 1500, xMax: 1580, yMax: 1570, loops: true,
  modules: [sfarModuleA, sfarModuleB, sfarModuleC, sfarModuleD, sfarOthers],
  cliques: [0,1,2,3], posLinks: sfarPositiveLinks, negLinks: sfarNegativeLinks,
  radius: d => 8 + 1.8 * d, posColor: 'rgba(28,165,138,0.88)', negColor: 'rgba(232,80,60,0.9)', lineWidth: 2.3 });

// ---------------- headers ----------------
[0, 2633].forEach((dy, k) => {
  addText(panelLetters[k], 12, 116 + dy, 148);
  addDot(337, 66 + dy, 39, LEGEND_FILL[0]); addText(categories[0], 452, 101 + dy, 96);
  addDot(1240, 57 + dy, 39, LEGEND_FILL[1]); addText(categories[1], 1361, 92 + dy, 96);
  addDot(2215, 43 + dy, 39, LEGEND_FILL[2]); addText(categories[2], 2331, 79 + dy, 96);
});
addText(panelTitles[0], 731, 396, 96, {center: true});
addText(panelTitles[1], 2427, 396, 96, {center: true});
addText(panelTitles[2], 710, 2965, 96, {center: true});
addText(panelTitles[3], 2416, 2998, 96, {center: true});

// in-panel class shares
const shareLayout = [
  {cx: 1272, ys: [543, 612, 681], tx: 1306, size: 60},
  {cx: 2926, ys: [505, 576, 645], tx: 2962, size: 58},
  {cx: 1315, ys: [3101, 3177, 3251], tx: 1352, size: 60},
  {cx: 3062, ys: [3075, 3150, 3219], tx: 3088, size: 60}
];
shareLayout.forEach((L, pi) => {
  for (let c = 0; c < 3; c++) {
    addDot(L.cx, L.ys[c], 27, LEGEND_FILL[c], '#1C2748', 4);
    addText(classShare[pi][c], L.tx, L.ys[c] + 0.36 * L.size, L.size);
  }
});

// ---------------- footers ----------------
const footers = [
  {size: 84, sx: 0.95, b: [1941, 2041, 2136], nodes: 8, edges: 482, degree: 996, dots: [[1291,1914,12],[1340,1914,21],[1409,1913,33]],
   tseg: [16,138,2024], pos: 160, nseg: [734,860,2024], neg: 900, avg: 5, avgv: 622, mod: 881, modv: 1283},
  {size: 80, sx: 0.95, b: [1924, 2017, 2107], nodes: 1656, edges: 2104, degree: 2612, dots: [[2924,1899,12],[2968,1899,21],[3045,1898,34]],
   tseg: [1666,1792,1988], pos: 1803, nseg: [2384,2506,1988], neg: 2537, avg: 1656, avgv: 2262, mod: 2485, modv: 2888},
  {size: 80, sx: 0.97, b: [4547, 4643, 4740], nodes: 60, edges: 506, degree: 1035, dots: [[1381,4519,12],[1431,4519,21],[1505,4519,34]],
   tseg: [68,192,4614], pos: 207, nseg: [814,944,4606], neg: 981, avg: 60, avgv: 668, mod: 940, modv: 1319},
  {size: 84, sx: 0.99, b: [4539, 4641, 4743], nodes: 1716, edges: 2196, degree: 2760, dots: [[3082,4515,12],[3131,4515,21],[3203,4515,34]],
   tseg: [1740,1868,4609], pos: 1882, nseg: [2513,2644,4604], neg: 2702, avg: 1716, avgv: 2390, mod: 2644, modv: 3122}
];
footers.forEach((F, pi) => {
  const o = {sx: F.sx};
  addText('Nodes: ' + nodeCounts[pi], F.nodes, F.b[0], F.size, o);
  addText('Edges: ' + edgeCounts[pi], F.edges, F.b[0], F.size, o);
  addText('Degree', F.degree, F.b[0], F.size, o);
  F.dots.forEach(d => addDot(d[0], d[1], d[2], '#000'));
  addSeg(F.tseg[0], F.tseg[1], F.tseg[2], '#14A98B', 7);
  addText('Positive(' + positiveShare[pi] + ')', F.pos, F.b[1], F.size, o);
  addSeg(F.nseg[0], F.nseg[1], F.nseg[2], '#E9553C', 7);
  addText('Negative(' + negativeShare[pi] + ')', F.neg, F.b[1], F.size, o);
  addText('Average degree:', F.avg, F.b[2], F.size, o);
  addText(averageDegree[pi], F.avgv, F.b[2], F.size, o);
  addText('Modularity:', F.mod, F.b[2], F.size, o);
  addText(modularity[pi], F.modv, F.b[2], F.size, o);
});
</script>
</body></html>
